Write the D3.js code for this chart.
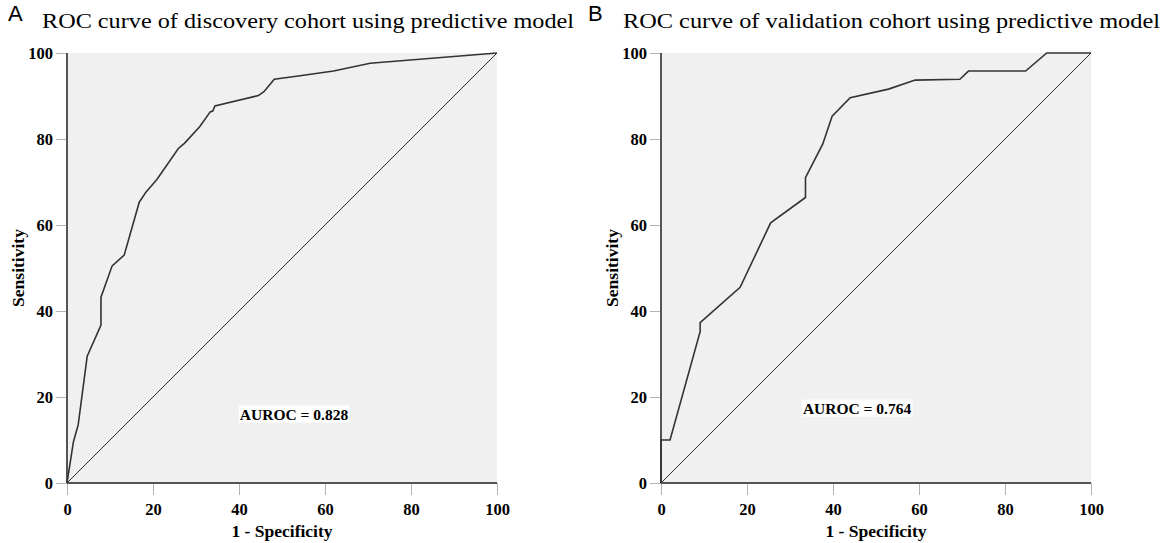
<!DOCTYPE html>
<html>
<head>
<meta charset="utf-8">
<script src="https://cdn.jsdelivr.net/npm/d3@7"></script>
<style>
  body { margin: 0; background: #fff; }
  svg { display: block; }
</style>
</head>
<body>
<div id="chart"></div>
<script>
// data (percent)
var fprDiscovery = [0, 1.5, 2.6, 4.7, 7.9, 7.9, 10.5, 13.3, 16.8, 18.4, 20.9, 25.9, 27.3, 30.9, 33.3, 33.9, 34.4, 44.5, 45.8, 48.2, 54.2, 62, 70.5, 100];
var tprDiscovery = [0, 9.6, 13.5, 29.5, 36.7, 43.2, 50.5, 53, 65.3, 67.7, 70.6, 77.8, 79, 82.9, 86.3, 86.5, 87.7, 90.1, 91, 93.9, 94.7, 95.8, 97.6, 100];
var fprValidation = [0, 0, 2.1, 9.1, 9.1, 18.4, 25.5, 33.6, 33.6, 37.6, 39.8, 44, 52.9, 59.1, 69.5, 71.5, 84.8, 89.7, 100];
var tprValidation = [0, 10, 10, 35.2, 37.3, 45.5, 60.5, 66.4, 71, 78.8, 85.3, 89.6, 91.6, 93.7, 93.9, 95.8, 95.8, 100, 100];
var ticks = [0, 20, 40, 60, 80, 100];
var panelLetters = ["A", "B"];
var panelTitles = ["ROC curve of discovery cohort using predictive model",
                   "ROC curve of validation cohort using predictive model"];
var aurocLabels = ["AUROC = 0.828", "AUROC = 0.764"];

function init() {
    var W = 1162, H = 543;
    var serif = "'Liberation Serif', 'Times New Roman', serif";

    var svg = d3.select("#chart")
                .append("svg")
                .attr("width", W)
                .attr("height", H);

    // panel layout
    var panels = [
        { left: 67, letterX: 8, titleX: 42, titleW: 532, fpr: fprDiscovery, tpr: tprDiscovery, labelX: 40.2, labelY: 16 },
        { left: 661, letterX: 588, titleX: 623, titleW: 537, fpr: fprValidation, tpr: tprValidation, labelX: 33, labelY: 17.4 }
    ];
    var size = 430, top = 53;

    panels.forEach(function(p, k) {
        var x = d3.scaleLinear().domain([0, 100]).range([p.left, p.left + size]);
        var y = d3.scaleLinear().domain([0, 100]).range([top + size, top]);
        var g = svg.append("g");

        // letter + title
        g.append("text")
            .attr("x", p.letterX)
            .attr("y", 21)
            .style("font-family", "'Liberation Sans', Arial, sans-serif")
            .style("font-size", "22px")
            .text(panelLetters[k]);
        g.append("text")
            .attr("x", p.titleX)
            .attr("y", 28)
            .attr("textLength", p.titleW)
            .attr("lengthAdjust", "spacingAndGlyphs")
            .style("font-family", serif)
            .style("font-size", "22px")
            .text(panelTitles[k]);

        // grey plot area
        g.append("rect")
            .attr("x", x(0))
            .attr("y", y(100))
            .attr("width", x(100) - x(0))
            .attr("height", y(0) - y(100))
            .attr("fill", "#f0f0f0");

        // axes
        var yAxis = d3.axisLeft(y).tickValues(ticks).tickSize(11).tickPadding(3);
        var xAxis = d3.axisBottom(x).tickValues(ticks).tickSize(12).tickPadding(8);

        var ya = g.append("g")
            .attr("transform", "translate(" + x(0) + ",0)")
            .call(yAxis);
        var xa = g.append("g")
            .attr("transform", "translate(0," + y(0) + ")")
            .call(xAxis);

        [ya, xa].forEach(function(a) {
            a.select(".domain").remove();
            a.selectAll(".tick line").attr("stroke", "#b4b4b4").attr("stroke-width", 1);
            a.selectAll(".tick text")
                .style("font-family", serif)
                .style("font-size", "16.5px")
                .style("font-weight", "bold")
                .attr("fill", "#000");
        });

        // spines
        g.append("line")
            .attr("x1", x(0)).attr("x2", x(0))
            .attr("y1", y(100)).attr("y2", y(0))
            .attr("stroke", "#555").attr("stroke-width", 2);
        g.append("line")
            .attr("x1", x(0)).attr("x2", x(100))
            .attr("y1", y(0)).attr("y2", y(0))
            .attr("stroke", "#555").attr("stroke-width", 2);

        // axis titles
        g.append("text")
            .attr("x", (x(0) + x(100)) / 2)
            .attr("y", 537)
            .attr("text-anchor", "middle")
            .style("font-family", serif)
            .style("font-size", "17.5px")
            .style("font-weight", "bold")
            .text("1 - Specificity");
        g.append("text")
            .attr("text-anchor", "middle")
            .attr("transform", "translate(" + (x(0) - 43) + "," + y(50) + ")rotate(-90)")
            .style("font-family", serif)
            .style("font-size", "17.5px")
            .style("font-weight", "bold")
            .text("Sensitivity");

        // reference diagonal
        g.append("line")
            .attr("x1", x(0)).attr("y1", y(0))
            .attr("x2", x(100)).attr("y2", y(100))
            .attr("stroke", "#333").attr("stroke-width", 1);

        // ROC curve
        var pts = p.fpr.map(function(v, i) { return [v, p.tpr[i]]; });
        var line = d3.line()
            .x(function(d) { return x(d[0]); })
            .y(function(d) { return y(d[1]); });
        g.append("path")
            .datum(pts)
            .attr("d", line)
            .attr("fill", "none")
            .attr("stroke", "#333")
            .attr("stroke-width", 1.6);

        // AUROC label with white box
        var lab = g.append("text")
            .attr("x", x(p.labelX))
            .attr("y", y(p.labelY))
            .attr("dy", "0.35em")
            .style("font-family", serif)
            .style("font-size", "15.5px")
            .style("font-weight", "bold")
            .text(aurocLabels[k]);
        var bb = lab.node().getBBox();
        g.insert("rect", function() { return lab.node(); })
            .attr("x", bb.x - 1)
            .attr("y", bb.y)
            .attr("width", bb.width + 2)
            .attr("height", bb.height)
            .attr("fill", "#fff");
    });
}
window.onload = init;
</script>
</body>
</html>
